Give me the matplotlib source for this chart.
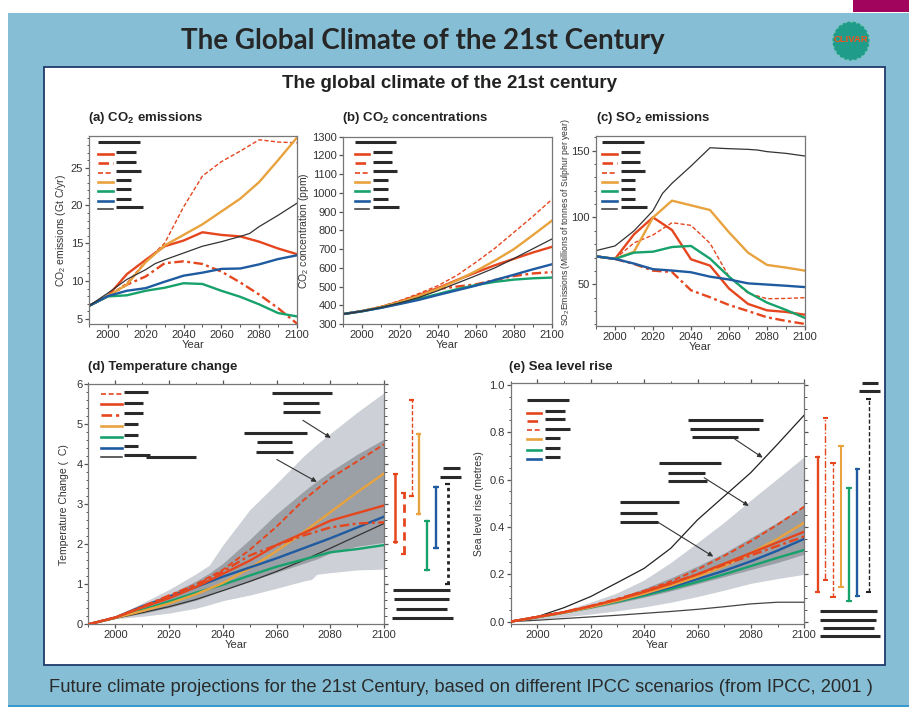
import matplotlib
matplotlib.use("Agg")
import matplotlib.pyplot as plt
from matplotlib.transforms import Affine2D
from matplotlib.patches import Rectangle, Ellipse
from matplotlib.lines import Line2D
from matplotlib.ticker import MultipleLocator, FormatStrFormatter

plt.rcParams['font.family'] = ['Liberation Sans', 'DejaVu Sans']
plt.rcParams['mathtext.fontset'] = 'custom'
plt.rcParams['mathtext.rm'] = 'Liberation Sans'
plt.rcParams['mathtext.bf'] = 'Liberation Sans:bold'
plt.rcParams['mathtext.it'] = 'Liberation Sans:italic'

# ---------------------------------------------------------------- data
years = [1990, 2000, 2010, 2020, 2030, 2040, 2050, 2060, 2070, 2080, 2090, 2100]
years_is92 = [1990, 2000, 2010, 2020, 2025, 2030, 2040, 2050, 2060, 2070, 2075, 2080, 2090, 2100]

# (a) CO2 emissions, Gt C/yr
co2_emis_a1b = [6.7, 8.0, 10.9, 12.8, 14.6, 15.35, 16.45, 16.1, 15.9, 15.2, 14.3, 13.55]
co2_emis_a1t = [6.7, 8.0, 9.5, 10.6, 12.35, 12.6, 12.25, 11.25, 9.8, 8.2, 6.4, 4.35]
co2_emis_a1fi = [6.7, 8.0, 9.7, 12.6, 15.0, 19.8, 23.9, 25.8, 27.2, 28.7, 28.4, 28.3]
co2_emis_a2 = [6.7, 8.0, 9.5, 12.5, 14.7, 16.1, 17.5, 19.2, 20.9, 23.1, 26.0, 29.0]
co2_emis_b1 = [6.7, 7.95, 8.1, 8.7, 9.1, 9.7, 9.6, 8.7, 7.9, 6.9, 5.75, 5.3]
co2_emis_b2 = [6.7, 8.0, 8.7, 9.05, 9.9, 10.7, 11.1, 11.6, 11.65, 12.2, 12.9, 13.4]
co2_emis_is92a = [6.7, 8.4, 10.2, 11.5, 12.3, 12.8, 13.7, 14.6, 15.2, 15.9, 16.3, 17.2, 18.7, 20.3]

# (b) CO2 concentrations, ppm
co2_conc_a1b = [353, 369, 391, 420, 455, 492, 535, 575, 614, 648, 682, 712]
co2_conc_a1t = [353, 369, 390, 416, 446, 487, 500, 512, 535, 556, 570, 577]
co2_conc_a1fi = [353, 369, 393, 425, 463, 505, 560, 630, 705, 790, 875, 966]
co2_conc_a2 = [353, 369, 390, 417, 450, 487, 532, 583, 639, 700, 775, 852]
co2_conc_b1 = [353, 368, 387, 410, 435, 460, 486, 508, 525, 537, 544, 548]
co2_conc_b2 = [353, 368, 386, 407, 429, 455, 480, 505, 535, 563, 592, 619]
co2_conc_is92a = [353, 368, 388, 413, 427, 442, 478, 518, 558, 600, 625, 650, 702, 754]

# (c) SO2 emissions, Tg S/yr
so2_a1b = [70.9, 69.0, 87.4, 100.1, 90.6, 68.7, 64.0, 46.8, 35.3, 30.5, 29.3, 27.2]
so2_a1t = [70.9, 69.0, 65.2, 60.2, 59.2, 45.5, 40.3, 34.5, 30.0, 25.3, 22.6, 20.3]
so2_a1fi = [70.9, 69.0, 81.0, 86.9, 96.1, 94.1, 80.7, 55.7, 43.3, 39.2, 39.4, 40.0]
so2_a2 = [70.9, 69.0, 74.4, 100.0, 112.6, 109.1, 105.6, 88.9, 73.7, 64.5, 62.5, 60.2]
so2_b1 = [70.9, 69.0, 73.7, 74.4, 77.9, 78.7, 69.2, 55.7, 44.0, 36.3, 30.8, 24.8]
so2_b2 = [70.9, 69.0, 65.5, 61.3, 60.3, 59.0, 55.7, 53.6, 50.7, 49.8, 48.9, 47.9]
so2_is92a = [75.2, 78.7, 90.0, 105.1, 118.0, 125.6, 138.5, 152.2, 151.5, 151.0, 150.5, 149.3, 148.0, 146.0]

# (d) temperature change, deg C
temp_a1fi = [0.0, 0.17, 0.43, 0.70, 1.00, 1.36, 1.86, 2.44, 3.10, 3.65, 4.07, 4.50]
temp_a1b = [0.0, 0.17, 0.42, 0.65, 0.93, 1.26, 1.59, 1.98, 2.28, 2.59, 2.78, 2.97]
temp_a1t = [0.0, 0.17, 0.44, 0.72, 0.98, 1.32, 1.72, 1.98, 2.22, 2.42, 2.52, 2.55]
temp_a2 = [0.0, 0.16, 0.33, 0.52, 0.75, 1.03, 1.40, 1.83, 2.30, 2.80, 3.30, 3.77]
temp_b1 = [0.0, 0.16, 0.36, 0.57, 0.79, 0.99, 1.22, 1.44, 1.62, 1.80, 1.88, 1.98]
temp_b2 = [0.0, 0.17, 0.45, 0.69, 0.93, 1.19, 1.42, 1.65, 1.90, 2.15, 2.42, 2.69]
temp_is92a = [0.0, 0.15, 0.29, 0.44, 0.62, 0.84, 1.07, 1.32, 1.60, 1.90, 2.21, 2.52]

band_years_d = [1990, 2000, 2010, 2020, 2030, 2035, 2040, 2050, 2060, 2070, 2073, 2075, 2080, 2090, 2100]
temp_outer_hi = [0.0, 0.20, 0.53, 0.87, 1.26, 1.48, 1.98, 2.86, 3.52, 4.20, 4.38, 4.50, 4.77, 5.30, 5.79]
temp_outer_lo = [0.0, 0.14, 0.20, 0.28, 0.40, 0.49, 0.59, 0.73, 0.90, 1.08, 1.12, 1.25, 1.29, 1.36, 1.38]
temp_inner_hi = [0.0, 0.18, 0.45, 0.75, 1.08, 1.28, 1.52, 2.12, 2.76, 3.32, 3.48, 3.58, 3.82, 4.25, 4.63]
temp_inner_lo = [0.0, 0.15, 0.27, 0.42, 0.60, 0.72, 0.86, 1.07, 1.30, 1.52, 1.59, 1.63, 1.78, 1.95, 2.05]

# 2100 ranges: A1B, A1T, A1FI, A2, B1, B2, IS92
temp_range_lo = [2.07, 1.76, 3.22, 2.75, 1.37, 1.92, 1.02]
temp_range_hi = [3.77, 3.29, 5.62, 4.75, 2.59, 3.43, 3.50]
temp_range_x = [2104.2, 2107.3, 2110.3, 2112.9, 2116.0, 2119.4, 2123.7]

# (e) sea level rise, metres
sea_a1fi = [0.0, 0.020, 0.041, 0.066, 0.096, 0.130, 0.170, 0.220, 0.278, 0.340, 0.410, 0.486]
sea_a1b = [0.0, 0.020, 0.040, 0.065, 0.093, 0.125, 0.160, 0.200, 0.245, 0.290, 0.335, 0.380]
sea_a1t = [0.0, 0.020, 0.040, 0.066, 0.095, 0.128, 0.163, 0.200, 0.240, 0.280, 0.320, 0.360]
sea_a2 = [0.0, 0.019, 0.038, 0.061, 0.088, 0.118, 0.152, 0.190, 0.235, 0.290, 0.350, 0.418]
sea_b1 = [0.0, 0.019, 0.038, 0.060, 0.084, 0.110, 0.138, 0.168, 0.200, 0.235, 0.270, 0.303]
sea_b2 = [0.0, 0.019, 0.039, 0.062, 0.088, 0.116, 0.146, 0.180, 0.215, 0.255, 0.300, 0.350]
sea_upper_env = [0.0, 0.021, 0.059, 0.106, 0.165, 0.225, 0.310, 0.430, 0.530, 0.630, 0.750, 0.873]
sea_lower_env = [0.0, 0.006, 0.013, 0.020, 0.027, 0.035, 0.043, 0.052, 0.063, 0.075, 0.082, 0.082]

sea_outer_hi = [0.0, 0.021, 0.048, 0.082, 0.122, 0.176, 0.250, 0.334, 0.420, 0.514, 0.605, 0.697]
sea_outer_lo = [0.0, 0.010, 0.020, 0.032, 0.046, 0.062, 0.082, 0.106, 0.133, 0.162, 0.182, 0.200]
sea_inner_hi = [0.0, 0.020, 0.042, 0.068, 0.100, 0.140, 0.185, 0.235, 0.290, 0.355, 0.420, 0.490]
sea_inner_lo = [0.0, 0.018, 0.036, 0.056, 0.078, 0.103, 0.130, 0.160, 0.190, 0.220, 0.250, 0.285]

# 2100 ranges: A1B, A1T, A1FI, A2, B1, B2, IS92
sea_range_lo = [0.124, 0.176, 0.106, 0.148, 0.089, 0.108, 0.124]
sea_range_hi = [0.694, 0.859, 0.669, 0.742, 0.566, 0.646, 0.939]
sea_range_x = [2105.0, 2107.9, 2110.7, 2113.7, 2116.7, 2119.9, 2124.1]

# ---------------------------------------------------------------- styles
RED = '#E5461E'
ORANGE = '#E8A23E'
GREEN = '#17A26C'
BLUE = '#1F5BA0'
INK = '#2a2a2a'
STY = {
    'A1B': dict(color=RED, lw=1.7, ls='-'),
    'A1T': dict(color=RED, lw=1.7, ls=(0, (4, 1.5, 1.2, 1.5))),
    'A1FI': dict(color=RED, lw=1.0, ls=(0, (3, 1.6))),
    'A2': dict(color=ORANGE, lw=1.7, ls='-'),
    'B1': dict(color=GREEN, lw=1.7, ls='-'),
    'B2': dict(color=BLUE, lw=1.7, ls='-'),
    'IS92a': dict(color='#333333', lw=0.9, ls='-'),
}

W, H = 909, 716
fig = plt.figure(figsize=(W / 100, H / 100), dpi=100)
px = Affine2D().scale(1 / W, -1 / H).translate(0, 1) + fig.transFigure


def rect(l, t, r, b):
    return [l / W, 1 - b / H, (r - l) / W, (b - t) / H]


# page frame (drawn beneath the axes)
fig.add_artist(Rectangle((8, 13), W - 8, 692, transform=px, facecolor='#86BED6', edgecolor='none', zorder=-3))
fig.add_artist(Rectangle((853, 0), 56, 12, transform=px, facecolor='#A0045C', edgecolor='none', zorder=-3))
fig.add_artist(Rectangle((8, 705), W - 8, 2, transform=px, facecolor='#3A9AD0', edgecolor='none', zorder=-3))
fig.add_artist(Rectangle((44, 67), 841, 598, transform=px, facecolor='white', edgecolor='#1F3A6B', lw=1.3,
                         zorder=-2))

fig.text(423 / W, 1 - 41 / H, 'The Global Climate of the 21st Century', ha='center', va='center',
         fontsize=20, fontweight='bold', family=['Lato', 'DejaVu Sans'], color='#262626')
fig.text(450 / W, 1 - 84 / H, 'The global climate of the 21st century', ha='center', va='center',
         fontsize=13.5, fontweight='bold', color='#222222')
fig.text(461 / W, 1 - 688 / H,
         'Future climate projections for the 21st Century, based on different IPCC scenarios (from IPCC, 2001 )',
         ha='center', va='center', fontsize=13.2, color='#2a2a2a')

# emblem
fig.add_artist(Ellipse((851, 41), 37, 39, transform=px, facecolor='#1F9C8A', edgecolor='#7CC8BA',
                       lw=1.4, ls=':', zorder=1))
fig.text(851 / W, 1 - 39 / H, 'CLIVAR', ha='center', va='center', fontsize=6.8, fontweight='bold',
         color='#F0561E', zorder=2)


def style_axis(ax, ylim, ymaj, ymin, box_ticks=False):
    ax.set_zorder(2)
    ax.patch.set_alpha(0)
    ax.set_xlim(1990, 2100)
    ax.set_ylim(*ylim)
    ax.xaxis.set_major_locator(MultipleLocator(20))
    ax.xaxis.set_minor_locator(MultipleLocator(10))
    ax.yaxis.set_major_locator(MultipleLocator(ymaj))
    if ymin:
        ax.yaxis.set_minor_locator(MultipleLocator(ymin))
    ax.tick_params(which='both', direction='out', colors='#555555', labelcolor='#333333',
                   labelsize=8, top=box_ticks, right=box_ticks, pad=1.5)
    ax.tick_params(which='major', length=2.8, width=0.9)
    ax.tick_params(which='minor', length=1.8, width=0.7)
    for s in ax.spines.values():
        s.set_color('#777777')
        s.set_linewidth(0.9)
    ax.set_xlabel('Year', fontsize=8, labelpad=0, color='#333333')


def bar(x0, x1, y, lw=2.2):
    fig.add_artist(Line2D([x0, x1], [y, y], transform=px, color=INK, lw=lw, solid_capstyle='butt', zorder=5))


def key(rows, y_rows, lx0, lx1, bx0, widths, header=None):
    if header:
        bar(header[0], header[1], header[2])
    for name, y, w in zip(rows, y_rows, widths):
        st = STY[name]
        fig.add_artist(Line2D([lx0, lx1], [y + 1.5, y + 1.5], transform=px, color=st['color'],
                              lw=st['lw'] + 0.2, ls=st['ls'], zorder=5))
        bar(bx0, bx0 + w, y)


rows_abc = ['A1B', 'A1T', 'A1FI', 'A2', 'B1', 'B2', 'IS92a']
y_abc = [152.3, 161.7, 171.3, 180.0, 189.3, 199.3, 207.3]

# ---------------------------------------------------------------- (a)
ax = fig.add_axes(rect(89, 136, 297, 324))
for name, v in zip(rows_abc[:-1], [co2_emis_a1b, co2_emis_a1t, co2_emis_a1fi, co2_emis_a2, co2_emis_b1, co2_emis_b2]):
    ax.plot(years, v, **STY[name])
ax.plot(years_is92, co2_emis_is92a, **STY['IS92a'])
style_axis(ax, (4.3, 29.2), 5, 1)
ax.set_ylabel('CO$_2$ emissions (Gt C/yr)', fontsize=7.5, labelpad=2, color='#333333')
fig.text(88 / W, 1 - 118 / H, '(a) CO$_\\mathbf{2}$ emissions', fontsize=9.5, fontweight='bold',
         va='center', color='#222222')
key(rows_abc, y_abc, 98.3, 113.3, 116, [20, 20, 25, 15, 15, 15, 27], header=(98.3, 140, 142.3))

# ---------------------------------------------------------------- (b)
ax = fig.add_axes(rect(343, 136.7, 552, 324))
for name, v in zip(rows_abc[:-1], [co2_conc_a1b, co2_conc_a1t, co2_conc_a1fi, co2_conc_a2, co2_conc_b1, co2_conc_b2]):
    ax.plot(years, v, **STY[name])
ax.plot(years_is92, co2_conc_is92a, **STY['IS92a'])
style_axis(ax, (300, 1300), 100, None)
ax.set_ylabel('CO$_2$ concentration (ppm)', fontsize=7.5, labelpad=1, color='#333333')
fig.text(342 / W, 1 - 118 / H, '(b) CO$_\\mathbf{2}$ concentrations', fontsize=9.5, fontweight='bold',
         va='center', color='#222222')
key(rows_abc, y_abc, 355, 369.3, 372.7, [19.3, 19.3, 24.6, 15.3, 15.3, 15.3, 26.3], header=(355, 396, 142.3))

# ---------------------------------------------------------------- (c)
ax = fig.add_axes(rect(596, 136, 805, 325.7))
for name, v in zip(rows_abc[:-1], [so2_a1b, so2_a1t, so2_a1fi, so2_a2, so2_b1, so2_b2]):
    ax.plot(years, v, **STY[name])
ax.plot(years_is92, so2_is92a, **STY['IS92a'])
style_axis(ax, (19, 161), 50, 10)
fig.text(566 / W, 1 - 222 / H, 'SO$_2$Emissions (Millions of tonnes of Sulphur per year)', rotation=90,
         ha='center', va='center', fontsize=6.2, color='#333333')
fig.text(596 / W, 1 - 118 / H, '(c) SO$_\\mathbf{2}$ emissions', fontsize=9.5, fontweight='bold',
         va='center', color='#222222')
key(rows_abc, y_abc, 601.7, 617.3, 621, [19, 19, 24, 14, 14, 14, 26], header=(601.7, 644, 142.3))

# ---------------------------------------------------------------- (d)
ax = fig.add_axes(rect(88.4, 384.3, 384, 624.3))
ax.fill_between(band_years_d, temp_outer_lo, temp_outer_hi, color='#CDD0D6', lw=0, zorder=1)
ax.fill_between(band_years_d, temp_inner_lo, temp_inner_hi, color='#9B9FA6', lw=0, zorder=1.5)
for name, v in [('IS92a', temp_is92a), ('B1', temp_b1), ('A2', temp_a2), ('B2', temp_b2),
                ('A1B', temp_a1b), ('A1T', temp_a1t), ('A1FI', temp_a1fi)]:
    st = dict(STY[name])
    if name == 'A1FI':
        st['lw'] = 1.4
    ax.plot(years, v, zorder=3, **st)
style_axis(ax, (0, 6), 1, 0.2, box_ticks=True)
ax.set_ylabel('Temperature Change (  C)', fontsize=7.5, labelpad=5, color='#333333')
fig.text(88 / W, 1 - 367 / H, '(d) Temperature change', fontsize=9.5, fontweight='bold',
         va='center', color='#222222')

range_sty_d = [dict(color=RED, lw=1.8, ls='-'), dict(color=RED, lw=2.0, ls=(0, (3, 2))),
               dict(color=RED, lw=1.0, ls=(0, (3, 1.5))), dict(color=ORANGE, lw=1.7, ls='-'),
               dict(color=GREEN, lw=1.7, ls='-'), dict(color=BLUE, lw=1.7, ls='-'),
               dict(color='#222222', lw=2.0, ls=(0, (1.2, 1.2)))]
for x, lo, hi, st in zip(temp_range_x, temp_range_lo, temp_range_hi, range_sty_d):
    ax.plot([x, x], [lo, hi], clip_on=False, **st)
    for yy in (lo, hi):
        ax.plot([x - 1.0, x + 1.0], [yy, yy], color=st['color'], lw=1.6, clip_on=False, solid_capstyle='butt')

ax.annotate('', xy=(2080.2, 4.66), xytext=(2069.8, 5.1),
            arrowprops=dict(arrowstyle='-|>', lw=0.8, color='#333333', mutation_scale=7, shrinkA=0, shrinkB=0))
ax.annotate('', xy=(2075.0, 3.56), xytext=(2060.1, 4.12),
            arrowprops=dict(arrowstyle='-|>', lw=0.8, color='#333333', mutation_scale=7, shrinkA=0, shrinkB=0))

key(['A1FI', 'A1B', 'A1T', 'A2', 'B1', 'B2', 'IS92a'], [392, 402.7, 413.3, 424, 435, 446, 455.3],
    100.7, 121.7, 124, [23.7, 18.7, 18.7, 14, 14, 14, 26])
bar(146, 196, 456.7)
for x0, x1, y in [(272, 332, 393.3), (283, 319, 402.7), (283, 320, 412),
                  (243.7, 307, 433.3), (257, 292, 442.3), (256, 293, 452.3),
                  (443, 460, 468.3), (440, 461, 477), (393, 450, 590.3), (394, 449, 599.3),
                  (396, 447, 609.3), (392, 453, 618.3)]:
    bar(x0, x1, y)

# ---------------------------------------------------------------- (e)
ax = fig.add_axes(rect(510.6, 383.3, 804.3, 624))
ax.fill_between(years, sea_outer_lo, sea_outer_hi, color='#CDD0D6', lw=0, zorder=1)
ax.fill_between(years, sea_inner_lo, sea_inner_hi, color='#9B9FA6', lw=0, zorder=1.5)
ax.plot(years, sea_upper_env, color='#222222', lw=0.9, zorder=3)
ax.plot(years, sea_lower_env, color='#444444', lw=0.9, zorder=3)
for name, v in [('B1', sea_b1), ('B2', sea_b2), ('A2', sea_a2), ('A1B', sea_a1b),
                ('A1T', sea_a1t), ('A1FI', sea_a1fi)]:
    st = dict(STY[name])
    if name == 'A1FI':
        st['lw'] = 1.4
    ax.plot(years, v, zorder=3, **st)
style_axis(ax, (-0.01, 1.007), 0.2, 0.05, box_ticks=True)
ax.yaxis.set_major_formatter(FormatStrFormatter('%.1f'))
ax.set_ylabel('Sea level rise (metres)', fontsize=7.5, labelpad=4, color='#333333')
fig.text(509 / W, 1 - 367 / H, '(e) Sea level rise', fontsize=9.5, fontweight='bold',
         va='center', color='#222222')

range_sty_e = [dict(color=RED, lw=1.7, ls='-'), dict(color=RED, lw=1.0, ls=(0, (5, 1.5, 1, 1.5))),
               dict(color=RED, lw=1.0, ls=(0, (3, 1.5))), dict(color=ORANGE, lw=1.5, ls='-'),
               dict(color=GREEN, lw=1.7, ls='-'), dict(color=BLUE, lw=1.7, ls='-'),
               dict(color='#222222', lw=1.0, ls=(0, (3, 1.5)))]
for x, lo, hi, st in zip(sea_range_x, sea_range_lo, sea_range_hi, range_sty_e):
    ax.plot([x, x], [lo, hi], clip_on=False, **st)
    for yy in (lo, hi):
        ax.plot([x - 1.0, x + 1.0], [yy, yy], color=st['color'], lw=1.5, clip_on=False, solid_capstyle='butt')

for start, end in [((2074.0, 0.771), (2084.4, 0.693)), ((2062.5, 0.608), (2079.2, 0.489)),
                   ((2045.2, 0.420), (2065.9, 0.275))]:
    ax.annotate('', xy=end, xytext=start,
                arrowprops=dict(arrowstyle='-|>', lw=0.8, color='#333333', mutation_scale=7, shrinkA=0, shrinkB=0))

key(['A1B', 'A1T', 'A1FI', 'A2', 'B1', 'B2'], [411.3, 419.3, 428.7, 437.7, 448.3, 457.3],
    526.7, 541.3, 545, [20, 20, 25, 15, 15, 15], header=(526.7, 569, 400.3))
for x0, x1, y in [(688, 763, 420.3), (690, 759, 428.7), (692, 738, 437),
                  (659, 721, 463), (668, 705, 473), (668, 707, 481.3),
                  (620, 679, 502.3), (620, 657, 513.3), (620, 658, 522.3),
                  (862, 878, 383), (859, 880, 391), (820, 877, 611), (820, 876, 620),
                  (823, 874, 628), (820, 880, 636)]:
    bar(x0, x1, y)

fig.savefig('out.png', dpi=100)
